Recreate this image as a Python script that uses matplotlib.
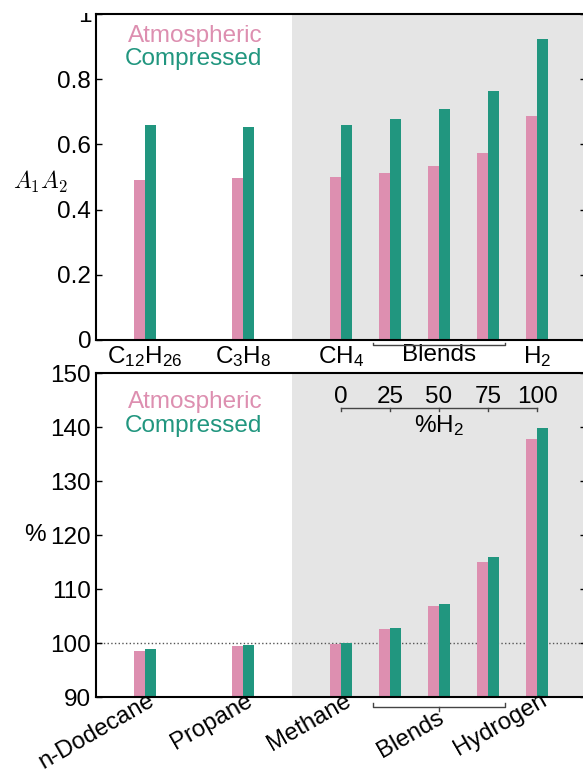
import numpy as np
import matplotlib
matplotlib.use("Agg")
from matplotlib import pyplot as plt
from matplotlib import transforms as mtrans

plt.rcParams['font.family'] = ['Liberation Sans', 'DejaVu Sans']
plt.rcParams['mathtext.fontset'] = 'custom'
plt.rcParams['mathtext.rm'] = 'Liberation Sans'
plt.rcParams['mathtext.it'] = 'Liberation Sans:italic'

## Data
fuels_top = ['C$_{12}$H$_{26}$', 'C$_{3}$H$_{8}$', 'CH$_{4}$', 'Blends', 'H$_{2}$']
fuels_bot = ['n-Dodecane', 'Propane', 'Methane', 'Blends', 'Hydrogen']
h2_percent = [0, 25, 50, 75, 100]

# A1A2 (top panel)
a1a2_atm = [0.492, 0.496, 0.499, 0.513, 0.533, 0.574, 0.687]
a1a2_cmp = [0.658, 0.654, 0.660, 0.679, 0.708, 0.765, 0.922]

# % relative to methane (bottom panel)
rel_atm = [98.6, 99.5, 99.95, 102.6, 106.9, 115.1, 137.8]
rel_cmp = [98.9, 99.7, 100.0, 102.8, 107.2, 115.9, 139.8]

# layout: single fuels spaced by 2, blends packed next to methane
xpos = np.array([0, 2, 4, 5, 6, 7, 8])
label_pos = [0, 2, 4, 6, 8]

pink = '#dd8fb0'
green = '#21967f'
shade = '#e5e5e5'
w = 0.225
fs = 17.5      # tick numbers
fs_cat = 17.5  # category names
fs_leg = 17.5

fig = plt.figure(figsize=(5.83, 7.73), dpi=100)
ax1 = fig.add_axes([0.1647, 0.5602, 0.8405, 0.4217])
ax2 = fig.add_axes([0.1647, 0.0979, 0.8405, 0.4192])

for ax in (ax1, ax2):
    ax.axvspan(3, 10, color=shade, lw=0, zorder=0)
    ax.set_xlim(-1, 9)
    for s in ax.spines.values():
        s.set_linewidth(1.5)
    ax.tick_params(direction='in', length=4, width=1, labelsize=fs,
                   right=True, top=False)

# Top panel
ax1.bar(xpos - w / 2, a1a2_atm, w, color=pink, zorder=2)
ax1.bar(xpos + w / 2, a1a2_cmp, w, color=green, zorder=2)
ax1.set_ylim(0, 1)
ax1.set_yticks([0, 0.2, 0.4, 0.6, 0.8, 1.0])
ax1.set_yticklabels(['0', '0.2', '0.4', '0.6', '0.8', '1'])
ax1.set_xticks(label_pos)
ax1.set_xticklabels(fuels_top)
ax1.tick_params(axis='x', pad=3, labelsize=fs_cat)
ax1.xaxis.get_major_ticks()[3].tick1line.set_visible(False)
ax1.set_ylabel('$A_1A_2$', rotation=0, fontsize=17, math_fontfamily='cm',
               ha='center', va='center')
ax1.yaxis.set_label_coords(-0.114, 0.485)

# top "1" label is cut by the picture edge
lab1 = ax1.yaxis.get_major_ticks()[-1].label1
lab1.set_clip_box(mtrans.Bbox.from_extents(0, 0, 583, 773 - 13))
lab1.set_clip_on(True)

trans1 = mtrans.blended_transform_factory(ax1.transData, ax1.transAxes)
ax1.plot([4.66, 4.66, 7.34, 7.34], [-0.008, -0.0153, -0.0153, -0.008],
         color='#444444', lw=1, transform=trans1, clip_on=False)

ax1.text(2.39, 0.915, 'Atmospheric', color=pink, fontsize=fs_leg, ha='right',
         va='baseline', transform=trans1)
ax1.text(2.39, 0.844, 'Compressed', color=green, fontsize=fs_leg, ha='right',
         va='baseline', transform=trans1)

# Bottom panel
ax2.bar(xpos - w / 2, rel_atm, w, color=pink, zorder=2)
ax2.bar(xpos + w / 2, rel_cmp, w, color=green, zorder=2)
ax2.set_ylim(90, 150)
ax2.set_yticks(np.arange(90, 151, 10))
ax2.axhline(100, color='#555555', ls=':', lw=1, zorder=1)
ax2.set_xticks([0, 2, 4, 8])
ax2.set_xticklabels([])
ax2.set_ylabel('%', rotation=0, fontsize=fs, ha='center', va='center')
ax2.yaxis.set_label_coords(-0.1255, 0.5)

trans2 = mtrans.blended_transform_factory(ax2.transData, ax2.transAxes)
for p, name in zip(label_pos, fuels_bot):
    if name == 'Blends':
        dx, dy = 6, -24
    else:
        dx, dy = 11, -7
    t = mtrans.offset_copy(trans2, fig=fig, x=dx, y=dy, units='dots')
    ax2.text(p, 0, name, rotation=30, rotation_mode='anchor', ha='right',
             va='baseline', fontsize=17.2, transform=t, clip_on=False)

ax2.plot([4.66, 4.66, 7.34, 7.34], [-0.0176, -0.031, -0.031, -0.0176],
         color='#444444', lw=1, transform=trans2, clip_on=False)
ax2.plot([6, 6], [-0.031, -0.042], color='#444444', lw=1,
         transform=trans2, clip_on=False)

ax2.text(2.39, 0.894, 'Atmospheric', color=pink, fontsize=fs_leg, ha='right',
         va='baseline', transform=trans2)
ax2.text(2.39, 0.820, 'Compressed', color=green, fontsize=fs_leg, ha='right',
         va='baseline', transform=trans2)

# %H2 scale for the blends
scale_x = xpos[2:]
ax2.plot([scale_x[0], scale_x[-1]], [0.894, 0.894], color='#444444', lw=1,
         transform=trans2)
for p, h in zip(scale_x, h2_percent):
    ax2.plot([p, p], [0.894, 0.884], color='#444444', lw=1, transform=trans2)
    ax2.text(p, 0.909, str(h), fontsize=fs, ha='center', va='baseline',
             transform=trans2)
ax2.text(scale_x[2], 0.819, '%H$_2$', fontsize=fs, ha='center',
         va='baseline', transform=trans2)

fig.savefig('out.png', dpi=100)
